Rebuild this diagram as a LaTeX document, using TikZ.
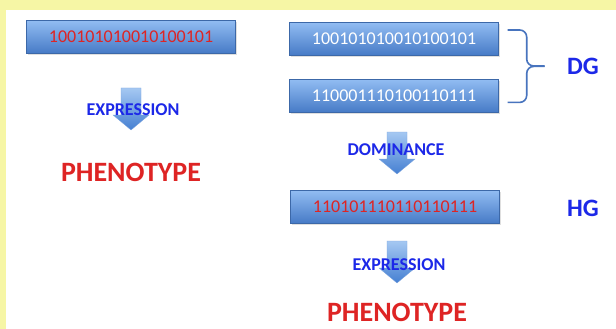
\documentclass[tikz,border=0pt]{standalone}
\usepackage{fontspec}
\setmainfont{Carlito}
\definecolor{pagebg}{RGB}{246,246,165}
\definecolor{boxtop}{RGB}{145,188,242}
\definecolor{boxbot}{RGB}{70,122,198}
\definecolor{arrtop}{RGB}{165,200,242}
\definecolor{arrbot}{RGB}{70,128,210}
\definecolor{bitred}{RGB}{222,36,36}
\definecolor{labelblue}{RGB}{28,40,232}
\definecolor{bracecol}{RGB}{72,116,190}
\usetikzlibrary{positioning,calc,shadows}

\tikzset{
    genebox/.style={rectangle, draw=boxbot!85!black, line width=0.4pt, top color=boxtop, bottom color=boxbot,
        minimum width=209pt, minimum height=33pt, inner sep=0pt,
        drop shadow={shadow xshift=1.5pt, shadow yshift=-1.5pt, opacity=0.25},
        font=\fontsize{18}{20}\selectfont},
    steplabel/.style={font=\bfseries\fontsize{18}{20}\selectfont, text=labelblue, inner sep=0pt},
    phenolabel/.style={font=\bfseries\fontsize{28}{30}\selectfont, text=bitred, inner sep=0pt},
    genelabel/.style={font=\bfseries\fontsize{25}{27}\selectfont, text=labelblue, inner sep=0pt},
    blockarrow/.pic={
        \shade[top color=arrtop, bottom color=arrbot, draw=arrbot!70, line width=0.3pt]
            (-10,0) -- (10,0) -- (10,27) -- (18,27) -- (0,42) -- (-18,27) -- (-10,27) -- cycle;
    }
}

\begin{document}
\begin{tikzpicture}[x=1pt, y=-1pt]
    % page
    \fill[pagebg] (0,0) rectangle (616,329);
    \fill[white] (6,10) rectangle (616,329);
    \useasboundingbox (0,0) rectangle (616,329);

    % Haploid: one genome
    \node[genebox, text=bitred] (single) at (131,37) {100101010010100101};
    \pic at (131,88) {blockarrow};
    \node[steplabel] (expr_left) at (133,110) {EXPRESSION};
    \node[phenolabel] (pheno_left) at (131,172) {PHENOTYPE};

    % Diploid: two genomes
    \node[genebox, text=white] (dg_top) at (394,39) {100101010010100101};
    \node[genebox, text=white, below=23.5pt of dg_top] (dg_bottom) {110001110100110111};
    \draw[bracecol, line width=1.6pt, rounded corners=7pt]
        ($(dg_top.east)+(9,-9)$) -- ++(19,0) -- ++(0,36) -- ++(18,0);
    \draw[bracecol, line width=1.6pt, rounded corners=7pt]
        ($(dg_bottom.east)+(9,6.5)$) -- ++(19,0) -- ++(0,-36) -- ++(18,0);
    \node[genelabel] (dg) at (583,66) {DG};

    \pic at (397,132) {blockarrow};
    \node[steplabel] (dominance) at (396,150) {DOMINANCE};

    \node[genebox, text=bitred] (hg_box) at (395,207) {110101110110110111};
    \node[genelabel] (hg) at (583,208) {HG};

    \pic at (397,241) {blockarrow};
    \node[steplabel] (expr_right) at (399,265) {EXPRESSION};
    \node[phenolabel] (pheno_right) at (397,312) {PHENOTYPE};
\end{tikzpicture}
\end{document}
